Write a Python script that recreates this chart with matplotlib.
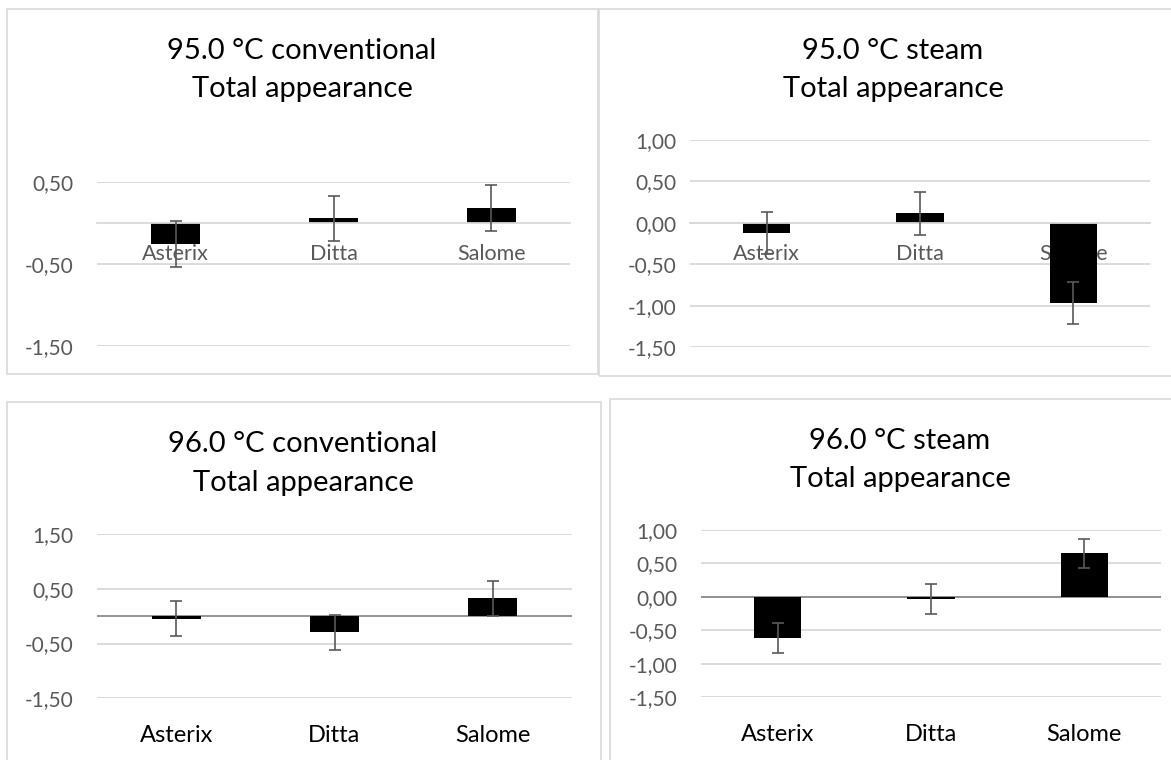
import matplotlib
matplotlib.use("Agg")
import matplotlib.pyplot as plt
from matplotlib.patches import Rectangle
from matplotlib.ticker import FuncFormatter

plt.rcParams['font.family'] = ['Lato', 'DejaVu Sans']

# data
cultivars = ["Asterix", "Ditta", "Salome"]

conv95 = [-0.26, 0.055, 0.18]
conv95_err = [0.28, 0.276, 0.28]

steam95 = [-0.12, 0.115, -0.965]
steam95_err = [0.25, 0.255, 0.25]

conv96 = [-0.05, -0.29, 0.33]
conv96_err = [0.32, 0.32, 0.32]

steam96 = [-0.62, -0.035, 0.65]
steam96_err = [0.225, 0.225, 0.22]

titles = ["95.0 °C conventional", "95.0 °C steam",
          "96.0 °C conventional", "96.0 °C steam"]
subtitle = "Total appearance"

W, H = 1171, 760
fig = plt.figure(figsize=(W / 100, H / 100), dpi=100)


def fx(x):
    return x / W


def fy(y):
    return 1 - y / H


def box(x0, y0, x1, y1):
    fig.patches.append(Rectangle((fx(x0), fy(y1)), fx(x1 - x0), (y1 - y0) / H,
                                 transform=fig.transFigure, fill=False,
                                 edgecolor="#d9d9d9", lw=1.2))


def comma(v, pos):
    return f"{v:.2f}".replace(".", ",")


def panel(rect, vals, errs, lims, ticks, labels_at_zero, ypad, title, tpos):
    x0, y0, x1, y1 = rect
    ax = fig.add_axes([fx(x0), fy(y1), fx(x1 - x0), (y1 - y0) / H])
    xs = range(len(cultivars))
    ax.bar(xs, vals, width=0.31, color="black", zorder=2)
    ax.errorbar(xs, vals, yerr=errs, fmt="none", ecolor="#595959",
                elinewidth=1.2, capsize=4.5, capthick=1.2, zorder=3)
    # gridlines kept under the bars
    for t in ticks:
        ax.axhline(t, color="#d9d9d9", lw=1.3, zorder=0)
    ax.set_xlim(-0.5, len(cultivars) - 0.5)
    ax.set_ylim(*lims)
    ax.set_yticks(ticks)
    ax.yaxis.set_major_formatter(FuncFormatter(comma))
    ax.set_xticks(list(xs))
    ax.set_xticklabels(cultivars)
    for s in ["top", "right", "left"]:
        ax.spines[s].set_visible(False)
    ax.tick_params(axis="y", length=0, pad=ypad, labelsize=15, labelcolor="#595959")
    if labels_at_zero:
        # category labels sit right under the zero line, over the bars
        ax.spines["bottom"].set_position(("data", 0))
        ax.spines["bottom"].set_color("#d9d9d9")
        ax.spines["bottom"].set_linewidth(1.3)
        ax.tick_params(axis="x", length=0, pad=15, labelsize=15.5, labelcolor="#595959")
    else:
        ax.spines["bottom"].set_visible(False)
        ax.axhline(0, color="#8c8c8c", lw=1.3, zorder=1)
        ax.tick_params(axis="x", length=0, pad=19, labelsize=17, labelcolor="black")
    for lab in ax.get_xticklabels():
        lab.set_zorder(5)
    ax.patch.set_alpha(0)
    cx, ty1, ty2 = tpos
    fig.text(fx(cx), fy(ty1), title, ha="center", va="center", fontsize=21)
    fig.text(fx(cx), fy(ty2), subtitle, ha="center", va="center", fontsize=21)
    return ax


# chart frames
box(6.5, 9.3, 598, 374)
box(599, 8.7, 1190, 376)
box(6.5, 402, 601, 780)
box(610, 399, 1190, 780)

panel((97, 181.7, 570, 345.7), conv95, conv95_err, (-1.5, 0.5),
      [0.5, -0.5, -1.5], True, 17, titles[0], (302, 51, 89))
panel((690, 140, 1150, 347.3), steam95, steam95_err, (-1.5, 1.0),
      [1.0, 0.5, 0.0, -0.5, -1.0, -1.5], True, 10, titles[1], (893, 51, 89))
panel((97, 534, 572, 698.3), conv96, conv96_err, (-1.5, 1.5),
      [1.5, 0.5, -0.5, -1.5], False, 17, titles[2], (303, 444, 483))
panel((701, 530, 1161, 697.3), steam96, steam96_err, (-1.5, 1.0),
      [1.0, 0.5, 0.0, -0.5, -1.0, -1.5], False, 17, titles[3], (900, 441, 479))

fig.savefig("out.png", dpi=100)
